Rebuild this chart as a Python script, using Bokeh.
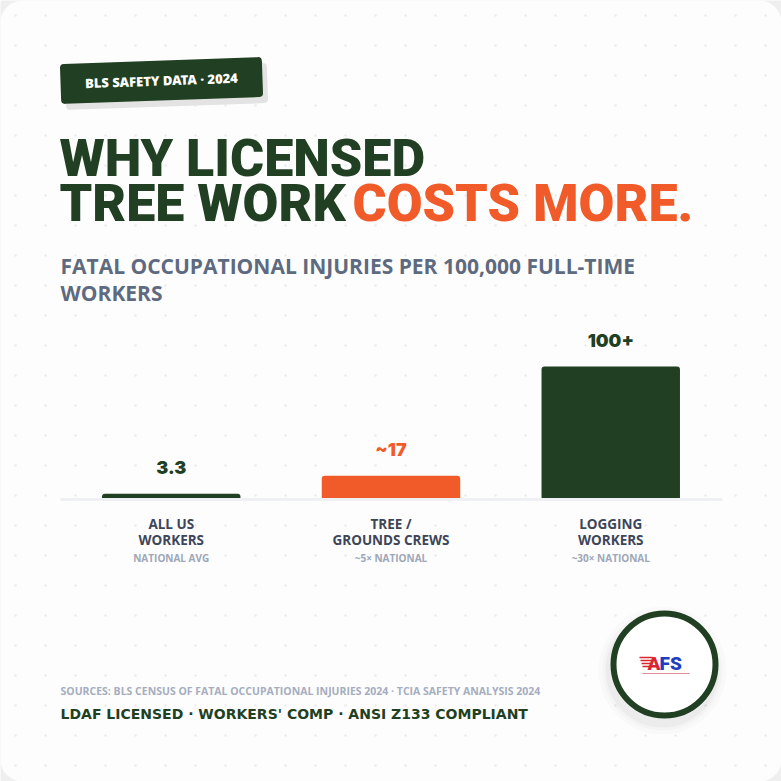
import numpy as np
from bokeh.plotting import figure
from bokeh.models import Range1d
from bokeh.core.properties import value
from bokeh.embed import file_html
from bokeh.resources import INLINE

# ---------------- data ----------------
categories = ["ALL US WORKERS", "TREE / GROUNDS CREWS", "LOGGING WORKERS"]
category_line1 = ["ALL US", "TREE /", "LOGGING"]
category_line2 = ["WORKERS", "GROUNDS CREWS", "WORKERS"]
rates = [3.3, 17, 100]
rate_labels = ["3.3", "~17", "100+"]
comparisons = ["NATIONAL AVG", "~5× NATIONAL", "~30× NATIONAL"]

badge_text = "BLS SAFETY DATA · 2024"
title_line1 = "WHY LICENSED"
title_line2a = "TREE WORK"
title_line2b = "COSTS MORE."
subtitle_line1 = "FATAL OCCUPATIONAL INJURIES PER 100,000 FULL-TIME"
subtitle_line2 = "WORKERS"
sources_text = "SOURCES: BLS CENSUS OF FATAL OCCUPATIONAL INJURIES 2024 · TCIA SAFETY ANALYSIS 2024"
footer_text = "LDAF LICENSED · WORKERS' COMP · ANSI Z133 COMPLIANT"

# ---------------- style ----------------
W = H = 781
GREEN = "#213f22"
ORANGE = "#f15a29"
SLATE = "#5e6a80"
DARK_SLATE = "#3d4659"
LIGHT_SLATE = "#9ea7b8"
bar_colors = [GREEN, ORANGE, GREEN]
HEAVY = value("Roboto Black")
VALUE_FONT = value("Inter Black")
SANS = value("Open Sans")
SANS_XB = value("Open Sans ExtraBold")

# category slots: one unit per category
slot = np.arange(len(categories)) + 0.5
x_pad = 0.277

base_px = 497.5          # screen y of the value zero line
px_per_unit = 1.315
y_from_bottom = H - base_px
y_start = -y_from_bottom / px_per_unit
y_end = (H - y_from_bottom) / px_per_unit

p = figure(width=W, height=H,
           x_range=Range1d(-x_pad, len(categories) + x_pad),
           y_range=Range1d(y_start, y_end),
           output_backend="svg", toolbar_location=None, title=None,
           min_border=0, x_axis_location=None, y_axis_location=None,
           outline_line_color=None,
           background_fill_color="#efefef", border_fill_color="#efefef")
p.grid.visible = False
p.extra_x_ranges = {"px": Range1d(0, W)}
p.extra_y_ranges = {"py": Range1d(H, 0)}
PX = dict(x_range_name="px", y_range_name="py")

# card
p.quad(left=0, right=W, top=0, bottom=H, fill_color="#fdfdfd", line_color=None,
       border_radius=22, **PX)

# dot grid
gx, gy = np.meshgrid(np.arange(15, W, 30), np.arange(15, H, 30))
p.scatter(gx.ravel(), gy.ravel(), size=2.5, color="#ebebeb", line_color=None, **PX)

# badge
p.rect(x=166, y=86, width=202, height=40, angle=2, angle_units="deg",
       fill_color="#e3e3e3", line_color=None, border_radius=4, **PX)
p.rect(x=161, y=80, width=202, height=40, angle=2, angle_units="deg",
       fill_color=GREEN, line_color=None, border_radius=4, **PX)
p.text(x=[161], y=[80], text=[badge_text], angle=2, angle_units="deg",
       text_align="center", text_baseline="middle", text_font=SANS_XB,
       text_font_size="13px", text_color="white", **PX)

# title
p.text(x=[59], y=[158], text=[title_line1], text_font=HEAVY, text_font_size="52px",
       text_color=GREEN, text_baseline="middle", **PX)
p.text(x=[59], y=[202.5], text=[title_line2a], text_font=HEAVY, text_font_size="52px",
       text_color=GREEN, text_baseline="middle", **PX)
p.text(x=[352], y=[202.5], text=[title_line2b], text_font=HEAVY, text_font_size="52px",
       text_color=ORANGE, text_baseline="middle", **PX)

# subtitle
p.text(x=[60, 60], y=[265, 292], text=[subtitle_line1, subtitle_line2], text_font=SANS,
       text_font_style="bold", text_font_size="21px", text_color=SLATE,
       text_baseline="middle", **PX)

# zero line
p.segment(x0=[60], x1=[722], y0=[499], y1=[499], line_color="#eef0f3", line_width=3, **PX)

# bars
p.vbar(x=slot, top=rates, bottom=0, width=0.63, fill_color=bar_colors,
       line_color=None, border_radius=(3, 3, 0, 0))
p.text(x=slot, y=rates, text=rate_labels, y_offset=-26, text_align="center",
       text_baseline="middle", text_color=bar_colors, text_font=VALUE_FONT,
       text_font_size="18px")

# category labels
p.text(x=slot, y=[523] * 3, text=category_line1, y_range_name="py",
       text_align="center", text_baseline="middle", text_font=SANS,
       text_font_style="bold", text_font_size="13.5px", text_color=DARK_SLATE)
p.text(x=slot, y=[539] * 3, text=category_line2, y_range_name="py",
       text_align="center", text_baseline="middle", text_font=SANS,
       text_font_style="bold", text_font_size="13.5px", text_color=DARK_SLATE)
p.text(x=slot, y=[557] * 3, text=comparisons, y_range_name="py",
       text_align="center", text_baseline="middle", text_font=SANS,
       text_font_style="bold", text_font_size="10px", text_color=LIGHT_SLATE)

# footer
p.text(x=[60], y=[690], text=[sources_text], text_align="left", text_baseline="middle",
       text_font=SANS, text_font_style="bold", text_font_size="10.5px",
       text_color="#a5adbf", **PX)
p.text(x=[60], y=[713], text=[footer_text], text_align="left", text_baseline="middle",
       text_font=value("DejaVu Sans"), text_font_style="bold", text_font_size="14px",
       text_color=GREEN, **PX)

# logo badge
for r, a in [(64, 0.015), (60, 0.02), (57, 0.03)]:
    p.circle(x=[662], y=[670], radius=r, fill_color="black", fill_alpha=a,
             line_color=None, **PX)
p.circle(x=[664], y=[664], radius=51, fill_color="white", line_color=GREEN,
         line_width=6, **PX)
p.segment(x0=[639, 640, 641, 642], x1=[652, 652, 651, 650], y0=[657, 660, 663, 666],
          y1=[657, 660, 663, 666], line_color="#d8262e", line_width=1.5, **PX)
p.text(x=[647], y=[663], text=["A"], text_font=HEAVY, text_font_size="19px",
       text_color="#d8262e", text_baseline="middle", **PX)
p.text(x=[659], y=[663], text=["FS"], text_font=HEAVY, text_font_size="19px",
       text_color="#1f3fbf", text_baseline="middle", **PX)
p.segment(x0=[642], x1=[689], y0=[673], y1=[673], line_color="#c84050",
          line_width=1, line_alpha=0.6, **PX)

open("out.html", "w").write(file_html(p, INLINE))
